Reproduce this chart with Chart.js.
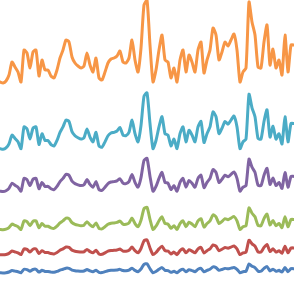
<!DOCTYPE html>
<html>
<head>
<meta charset="utf-8">
<title>Stacked series</title>
<script src="https://cdn.jsdelivr.net/npm/chart.js@4.4.0/dist/chart.umd.min.js"></script>
<style>
    html, body { margin: 0; padding: 0; background: #ffffff; }
    #wrap { width: 294px; height: 286px; }
</style>
</head>
<body>
<div id="wrap"><canvas id="seriesChart"></canvas></div>
<script>
const steps = [];
for (let i = 0; i < 99; i++) steps.push(i);

const indexValues = [
    2, 1, 3, 9, 22, 17, 12, 2, 34, 31,
    16, 32, 34, 8, 24, 14, 14, 8, 6, 14,
    26, 34, 44, 42, 27, 21, 18, 16, 18, 31,
    19, 12, 26, 6, 4, 12, 21, 25, 26, 28,
    33, 22, 21, 26, 44, 24, 12, 36, 79, 84,
    39, 2, 14, 34, 49, 24, 22, 6, 16, 2,
    24, 34, 12, 29, 22, 12, 34, 42, 11, 24,
    34, 56, 49, 24, 32, 42, 38, 44, 50, 34,
    2, 12, 16, 82, 62, 49, 17, 16, 42, 59,
    19, 35, 16, 24, 9, 49, 12, 39, 39
];

// Each series follows the same index, with its own floor and scale
const seriesNames  = ['Series 1', 'Series 2', 'Series 3', 'Series 4', 'Series 5', 'Series 6'];
const seriesFloor  = [13, 31, 56, 94, 136, 202];
const seriesScale  = [0.11, 0.18, 0.27, 0.40, 0.68, 1.0];
const seriesColors = ['#4F81BD', '#C0504D', '#9BBB59', '#8064A2', '#4BACC6', '#F79646'];

document.addEventListener('DOMContentLoaded', function () {
    const ctx = document.getElementById('seriesChart').getContext('2d');

    const datasets = seriesNames.map(function (name, s) {
        return {
            label: name,
            data: indexValues.map(v => seriesFloor[s] + seriesScale[s] * v),
            borderColor: seriesColors[s],
            backgroundColor: seriesColors[s],
            borderWidth: 3,
            pointRadius: 0,
            tension: 0.2,
            borderJoinStyle: 'round',
            borderCapStyle: 'round',
            fill: false
        };
    });

    new Chart(ctx, {
        type: 'line',
        data: { labels: steps, datasets: datasets },
        options: {
            responsive: true,
            maintainAspectRatio: false,
            animation: false,
            layout: { padding: 0 },
            scales: {
                x: { display: false, offset: false },
                y: { display: false, min: 0, max: 286 }
            },
            plugins: {
                legend: { display: false },
                tooltip: { enabled: false }
            }
        }
    });
});
</script>
</body>
</html>
